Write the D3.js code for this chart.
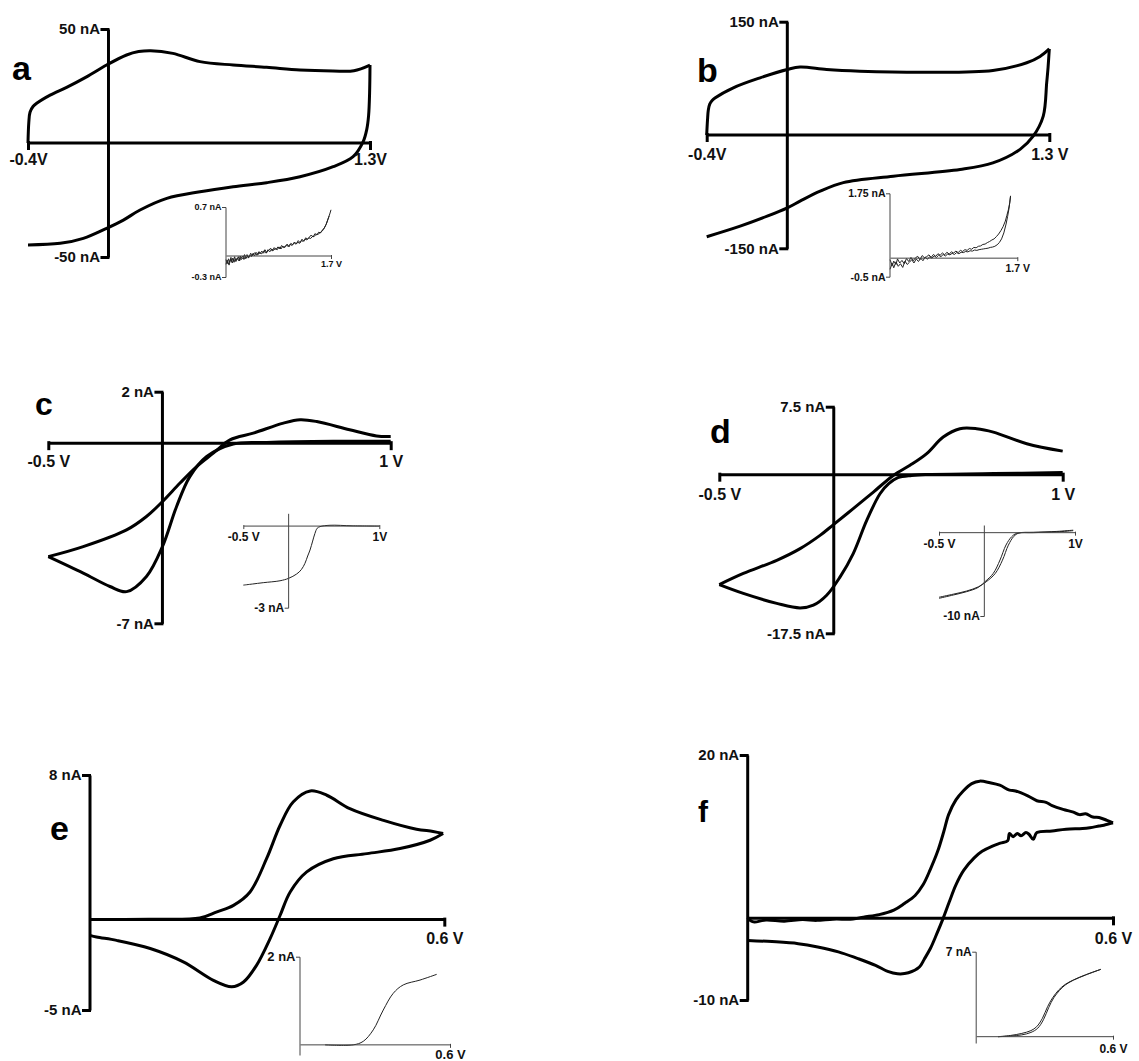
<!DOCTYPE html>
<html>
<head>
<meta charset="utf-8">
<script src="https://cdn.jsdelivr.net/npm/d3@7"></script>
<style>
  body { margin: 0; background: #fff; }
</style>
</head>
<body>
<div id="chart"></div>
<script>
/**
 * CONSTANTS AND GLOBALS
 * */
const width = 1139,
  height = 1061;
const FONT = "'Liberation Sans', Arial, Helvetica, sans-serif";

/**
 * DATA  ([potential V, current nA])
 * */
// panel a
const aXTicks = [-0.4, 1.3], aXLabels = ["-0.4V", "1.3V"];
const aYTicks = [50, -50], aYLabels = ["50 nA", "-50 nA"];
const aForward = [[-0.4, 0], [-0.396, 9], [-0.39, 13.5], [-0.375, 16], [-0.357, 17.4], [-0.29, 21], [-0.208, 24.4],
  [-0.109, 29], [-0.009, 34.2], [0.09, 38.6], [0.15, 40.1], [0.21, 40.5], [0.32, 39.3], [0.455, 35.7], [0.62, 34.2],
  [0.786, 33.2], [0.952, 32], [1.116, 31.6], [1.22, 31.7], [1.3, 34.2]];
const aReverse = [[1.3, 34.2], [1.298, 22], [1.293, 12], [1.284, 6], [1.266, 0.6], [1.216, -6], [1.117, -10.4],
  [0.952, -14.8], [0.786, -17.4], [0.62, -19.2], [0.455, -21.4], [0.29, -24.3], [0.157, -29.4], [0.074, -33.8],
  [-0.009, -37.4], [-0.125, -41.8], [-0.24, -44], [-0.4, -44.7]];
const aInsetXTicks = [1.7], aInsetXLabels = ["1.7 V"];
const aInsetYTicks = [0.7, -0.3], aInsetYLabels = ["0.7 nA", "-0.3 nA"];
const aInset1 = [[0.00, -0.05], [0.02, -0.11], [0.04, -0.04], [0.06, -0.09], [0.08, -0.02], [0.10, -0.10], [0.12, -0.06],
  [0.14, -0.01], [0.16, -0.08], [0.18, -0.03], [0.21, -0.07], [0.23, 0.00], [0.25, -0.05], [0.28, -0.02], [0.30, 0.02],
  [0.32, -0.04], [0.35, 0.01], [0.37, -0.02], [0.40, 0.04], [0.42, 0.00], [0.45, 0.03], [0.47, 0.05], [0.50, 0.01],
  [0.53, 0.06], [0.55, 0.03], [0.58, 0.07], [0.61, 0.04], [0.63, 0.09], [0.66, 0.05], [0.69, 0.08], [0.72, 0.11],
  [0.75, 0.07], [0.78, 0.12], [0.81, 0.09], [0.84, 0.13], [0.87, 0.10], [0.90, 0.15], [0.93, 0.12], [0.96, 0.14],
  [0.99, 0.17], [1.02, 0.13], [1.05, 0.18], [1.08, 0.16], [1.11, 0.20], [1.14, 0.17], [1.17, 0.22], [1.20, 0.19],
  [1.23, 0.24], [1.26, 0.21], [1.29, 0.26], [1.32, 0.24], [1.35, 0.27], [1.38, 0.30], [1.41, 0.27], [1.44, 0.32],
  [1.47, 0.30], [1.50, 0.34], [1.53, 0.33], [1.56, 0.37], [1.59, 0.40], [1.62, 0.45], [1.64, 0.50], [1.66, 0.55],
  [1.68, 0.60], [1.70, 0.66]];
const aInset2 = [[0.00, -0.12], [0.02, -0.06], [0.05, -0.13], [0.07, -0.05], [0.09, -0.08], [0.11, -0.03], [0.13, -0.09],
  [0.15, -0.04], [0.17, -0.06], [0.20, -0.01], [0.22, -0.07], [0.24, -0.03], [0.27, 0.00], [0.29, -0.05], [0.31, -0.01],
  [0.34, 0.02], [0.36, -0.03], [0.39, 0.01], [0.41, -0.01], [0.44, 0.04], [0.46, 0.00], [0.49, 0.05], [0.52, 0.02],
  [0.54, 0.06], [0.57, 0.03], [0.60, 0.05], [0.62, 0.08], [0.65, 0.04], [0.68, 0.09], [0.71, 0.06], [0.74, 0.10],
  [0.77, 0.08], [0.80, 0.11], [0.83, 0.09], [0.86, 0.13], [0.89, 0.10], [0.92, 0.14], [0.95, 0.12], [0.98, 0.15],
  [1.01, 0.14], [1.04, 0.17], [1.07, 0.15], [1.10, 0.19], [1.13, 0.17], [1.16, 0.20], [1.19, 0.18], [1.22, 0.22],
  [1.25, 0.21], [1.28, 0.24], [1.31, 0.23], [1.34, 0.26], [1.37, 0.25], [1.40, 0.28], [1.43, 0.28], [1.46, 0.31],
  [1.49, 0.31], [1.52, 0.33], [1.55, 0.35], [1.58, 0.38], [1.61, 0.43], [1.63, 0.47], [1.65, 0.52], [1.67, 0.57]];

// panel b
const bXTicks = [-0.4, 1.3], bXLabels = ["-0.4V", "1.3 V"];
const bYTicks = [150, -150], bYLabels = ["150 nA", "-150 nA"];
const bForward = [[-0.4, 0], [-0.396, 20], [-0.392, 33], [-0.385, 41], [-0.372, 46], [-0.359, 49], [-0.268, 62.5],
  [-0.135, 75.7], [0, 86.7], [0.063, 90], [0.195, 86.7], [0.36, 84.5], [0.69, 83], [1.02, 85.4], [1.188, 95.6],
  [1.254, 104], [1.3, 114]];
const bReverse = [[1.3, 114], [1.294, 90], [1.287, 69], [1.27, 25], [1.22, -1.6], [1.155, -19], [1.02, -37],
  [0.857, -45.7], [0.526, -54.5], [0.278, -63], [0.163, -74.4], [0.063, -87.6], [0, -96.4], [-0.1, -107.5],
  [-0.234, -120.7], [-0.4, -134.7]];
const bInsetXTicks = [1.7], bInsetXLabels = ["1.7 V"];
const bInsetYTicks = [1.75, -0.5], bInsetYLabels = ["1.75 nA", "-0.5 nA"];
const bInset1 = [[0.00, -0.04], [0.03, -0.20], [0.05, -0.08], [0.08, -0.17], [0.10, -0.02], [0.13, -0.13], [0.16, -0.06],
  [0.19, -0.15], [0.22, -0.01], [0.25, -0.09], [0.28, 0.02], [0.31, -0.07], [0.34, 0.01], [0.37, 0.05], [0.40, -0.04],
  [0.43, 0.07], [0.46, 0.01], [0.49, 0.04], [0.52, 0.09], [0.55, 0.02], [0.58, 0.10], [0.61, 0.05], [0.64, 0.12],
  [0.67, 0.08], [0.70, 0.14], [0.73, 0.09], [0.76, 0.16], [0.79, 0.11], [0.82, 0.17], [0.85, 0.14], [0.88, 0.19],
  [0.91, 0.15], [0.94, 0.21], [0.97, 0.18], [1.00, 0.23], [1.03, 0.21], [1.06, 0.26], [1.09, 0.24], [1.12, 0.29],
  [1.15, 0.28], [1.18, 0.32], [1.21, 0.33], [1.24, 0.37], [1.27, 0.38], [1.30, 0.42], [1.33, 0.45], [1.36, 0.49],
  [1.39, 0.52], [1.42, 0.58], [1.45, 0.65], [1.48, 0.74], [1.51, 0.85], [1.54, 1.0], [1.56, 1.15], [1.58, 1.30],
  [1.60, 1.50], [1.61, 1.68]];
const bInset2 = [[0.00, -0.30], [0.03, -0.14], [0.05, -0.26], [0.08, -0.10], [0.11, -0.22], [0.14, -0.15], [0.17, -0.25],
  [0.20, -0.08], [0.23, -0.17], [0.26, -0.11], [0.29, -0.04], [0.32, -0.13], [0.35, -0.02], [0.38, -0.09], [0.41, 0.00],
  [0.44, -0.07], [0.47, 0.03], [0.50, -0.03], [0.53, 0.04], [0.56, 0.00], [0.59, 0.06], [0.62, 0.02], [0.65, 0.08],
  [0.68, 0.04], [0.71, 0.10], [0.74, 0.06], [0.77, 0.11], [0.80, 0.09], [0.83, 0.13], [0.86, 0.10], [0.89, 0.15],
  [0.92, 0.12], [0.95, 0.16], [0.98, 0.15], [1.01, 0.18], [1.04, 0.17], [1.07, 0.20], [1.10, 0.19], [1.13, 0.22],
  [1.16, 0.21], [1.19, 0.23], [1.22, 0.24], [1.25, 0.25], [1.28, 0.26], [1.31, 0.27], [1.34, 0.29], [1.37, 0.30],
  [1.40, 0.32], [1.43, 0.36], [1.46, 0.42], [1.49, 0.52], [1.52, 0.68], [1.55, 0.92], [1.57, 1.12], [1.59, 1.35],
  [1.61, 1.68]];

// panel c
const cXTicks = [-0.5, 1], cXLabels = ["-0.5 V", "1 V"];
const cYTicks = [2, -7], cYLabels = ["2 nA", "-7 nA"];
const cForward = [[-0.5, -4.41], [-0.347, -4.02], [-0.157, -3.37], [-0.07, -2.85], [0, -2.27], [0.077, -1.55],
  [0.15, -0.91], [0.223, -0.39], [0.296, 0.13], [0.398, 0.39], [0.53, 0.78], [0.603, 0.91], [0.676, 0.84],
  [0.82, 0.52], [0.938, 0.28], [1.0, 0.26]];
const cReverse = [[1.0, 0.07], [0.749, 0.07], [0.457, 0.03], [0.31, -0.03], [0.194, -0.52], [0.12, -1.3],
  [0.062, -2.46], [0, -4.02], [-0.07, -5.18], [-0.157, -5.77], [-0.23, -5.57], [-0.347, -5.05], [-0.5, -4.41]];
const cInsetXTicks = [-0.5, 1], cInsetXLabels = ["-0.5 V", "1V"];
const cInsetYTicks = [-3], cInsetYLabels = ["-3 nA"];
const cInset1 = [[-0.5, -2.17], [-0.4, -2.13], [-0.28, -2.08], [-0.095, -2.01], [0, -1.92], [0.089, -1.76], [0.14, -1.6],
  [0.18, -1.37], [0.21, -1.1], [0.236, -0.88], [0.265, -0.55], [0.29, -0.27], [0.315, -0.08], [0.346, -0.02],
  [0.456, 0.03], [0.7, 0.01], [1.0, 0.0]];

// panel d
const dXTicks = [-0.5, 1], dXLabels = ["-0.5 V", "1 V"];
const dYTicks = [7.5, -17.5], dYLabels = ["7.5 nA", "-17.5 nA"];
const dForward = [[-0.5, -12.13], [-0.395, -10.9], [-0.249, -9.45], [-0.147, -8.16], [-0.06, -6.7], [0, -5.48],
  [0.085, -3.75], [0.173, -1.92], [0.26, -0.08], [0.333, 1.03], [0.406, 2.32], [0.478, 4.15], [0.551, 5.07],
  [0.624, 5.07], [0.697, 4.7], [0.843, 3.42], [1.0, 2.6]];
const dReverse = [[1.0, 0.25], [0.7, 0.12], [0.4, 0.02], [0.34, -0.08], [0.28, -0.33], [0.24, -1.0],
  [0.202, -2.1], [0.144, -5.04], [0.085, -8.7], [0.027, -11.3], [-0.031, -13.3], [-0.089, -14.4], [-0.147, -14.7],
  [-0.249, -14.2], [-0.395, -13.1], [-0.5, -12.13]];
const dInsetXTicks = [-0.5, 1], dInsetXLabels = ["-0.5 V", "1V"];
const dInsetYTicks = [-10], dInsetYLabels = ["-10 nA"];
const dInset1 = [[-0.5, -7.88], [-0.342, -7.48], [-0.195, -7.08], [-0.066, -6.56], [0.008, -5.88], [0.099, -4.88],
  [0.173, -3.28], [0.239, -1.48], [0.302, -0.48], [0.357, -0.08], [0.54, 0.0], [0.8, 0.1], [0.98, 0.24]];
const dInset2 = [[-0.5, -7.75], [-0.342, -7.38], [-0.195, -7.0], [-0.066, -6.5], [0.02, -5.9], [0.12, -4.9],
  [0.2, -3.3], [0.265, -1.5], [0.325, -0.45], [0.38, -0.05], [0.54, 0.05], [0.8, 0.15], [0.98, 0.3]];

// panel e
const eXTicks = [0.6], eXLabels = ["0.6 V"];
const eYTicks = [8, -5], eYLabels = ["8 nA", "-5 nA"];
const eForward = [[0, 0], [0.1, 0.02], [0.186, 0.09], [0.215, 0.43], [0.243, 0.79], [0.271, 1.53], [0.299, 3.37],
  [0.322, 5.22], [0.344, 6.51], [0.373, 7.12], [0.401, 6.88], [0.44, 6.14], [0.497, 5.49], [0.553, 5.0],
  [0.581, 4.88], [0.598, 4.76]];
const eReverse = [[0.598, 4.76], [0.576, 4.39], [0.525, 3.93], [0.469, 3.65], [0.412, 3.37], [0.367, 2.64],
  [0.339, 1.53], [0.322, 0.24], [0.305, -1.05], [0.282, -2.53], [0.26, -3.45], [0.24, -3.72], [0.209, -3.36],
  [0.158, -2.34], [0.102, -1.6], [0.045, -1.15], [0.011, -0.96], [0, -0.87]];
const eInsetXTicks = [0.6], eInsetXLabels = ["0.6 V"];
const eInsetYTicks = [2], eInsetYLabels = ["2 nA"];
const eInset1 = [[0.1, 0], [0.213, 0], [0.253, 0.08], [0.293, 0.34], [0.333, 0.79], [0.373, 1.17], [0.413, 1.36],
  [0.48, 1.47], [0.547, 1.6]];

// panel f
const fXTicks = [0.6], fXLabels = ["0.6 V"];
const fYTicks = [20, -10], fYLabels = ["20 nA", "-10 nA"];
const fForward = [[0, 0.1], [0.005, -0.3], [0.011, -0.45], [0.03, -0.2], [0.06, -0.35], [0.09, -0.15], [0.113, -0.25],
  [0.14, -0.1], [0.173, -0.08], [0.19, 0.15], [0.216, 0.45], [0.24, 1.0], [0.258, 1.85], [0.275, 2.8], [0.288, 4.1],
  [0.3, 6.0], [0.312, 8.2], [0.322, 10.6], [0.33, 12.7], [0.342, 14.5], [0.354, 15.6], [0.368, 16.5], [0.381, 16.8],
  [0.398, 16.6], [0.414, 16.3], [0.43, 15.7], [0.44, 15.6], [0.46, 15.0], [0.475, 14.4], [0.49, 14.2], [0.5, 13.8],
  [0.52, 13.3], [0.535, 13.0], [0.545, 12.7], [0.555, 12.8], [0.567, 12.4], [0.577, 12.35], [0.59, 12.0], [0.6, 11.7]];
const fReverse = [[0.6, 11.7], [0.585, 11.4], [0.577, 11.3], [0.562, 11.1], [0.55, 11.0], [0.523, 10.9], [0.5, 10.7],
  [0.475, 10.5], [0.469, 9.67], [0.462, 10.3], [0.457, 10.5], [0.449, 10.1], [0.443, 10.4], [0.436, 10.0],
  [0.43, 10.4], [0.427, 9.5], [0.415, 9.2], [0.402, 8.85], [0.385, 8.2], [0.372, 7.4], [0.355, 5.9], [0.342, 4.1],
  [0.331, 2.0], [0.321, 0], [0.31, -2.0], [0.3, -3.7], [0.29, -5.0], [0.282, -5.96], [0.264, -6.67], [0.246, -6.79],
  [0.23, -6.5], [0.21, -5.76], [0.18, -4.9], [0.149, -4.1], [0.115, -3.5], [0.083, -3.1], [0.04, -2.85], [0, -2.7]];
const fInsetXTicks = [0.6], fInsetXLabels = ["0.6 V"];
const fInsetYTicks = [7], fInsetYLabels = ["7 nA"];
const fInset1 = [[0.096, 0], [0.15, 0.1], [0.2, 0.27], [0.24, 0.5], [0.265, 0.82], [0.29, 1.5], [0.313, 2.47],
  [0.335, 3.2], [0.362, 3.85], [0.39, 4.3], [0.426, 4.67], [0.48, 5.1], [0.547, 5.55]];
const fInset2 = [[0.096, 0], [0.15, 0.05], [0.2, 0.15], [0.24, 0.35], [0.27, 0.7], [0.295, 1.4], [0.318, 2.4],
  [0.34, 3.2], [0.365, 3.8], [0.39, 4.25], [0.426, 4.65], [0.48, 5.08], [0.547, 5.55]];

const panelLetters = ["a", "b", "c", "d", "e", "f"];

/**
 * SVG
 * */
const svg = d3.select("#chart")
  .append("svg")
  .attr("width", width)
  .attr("height", height)
  .style("background", "#fff");

function drawPlot(p) {
  const x = d3.scaleLinear().domain(p.xDomain).range(p.xRange);
  const y = d3.scaleLinear().domain(p.yDomain).range(p.yRange);
  const sw = p.inset ? 1 : 3;
  const ink = p.inset ? "#444" : "#000";
  const g = svg.append("g");

  const line = d3.line()
    .x(d => x(d[0]))
    .y(d => y(d[1]))
    .curve(p.smooth ? d3.curveCatmullRom.alpha(0.5) : d3.curveLinear);

  p.traces.forEach(t => {
    g.append("path")
      .attr("d", line(t))
      .attr("fill", "none")
      .attr("stroke", p.inset ? "#222" : "#000")
      .attr("stroke-width", p.inset ? 1 : 3)
      .attr("stroke-linejoin", "round");
  });

  const xAxis = d3.axisBottom(x)
    .tickValues(p.xTicks)
    .tickFormat(d => p.xLabels[p.xTicks.indexOf(d)])
    .tickSize(p.tick).tickSizeOuter(0).tickPadding(p.xPad);
  const yAxis = d3.axisLeft(y)
    .tickValues(p.yTicks)
    .tickFormat(d => p.yLabels[p.yTicks.indexOf(d)])
    .tickSize(p.tick).tickSizeOuter(0).tickPadding(p.yPad);

  const gx = g.append("g").attr("transform", `translate(0,${y(0) - 0.5})`).call(xAxis);
  const gy = g.append("g").attr("transform", `translate(${x(0) - 0.5},0)`).call(yAxis);

  [[gx, p.xFont], [gy, p.yFont]].forEach(([a, fs]) => {
    a.attr("font-family", FONT).attr("font-size", fs).attr("font-weight", "bold");
    a.select(".domain").attr("stroke", ink).attr("stroke-width", sw);
    a.selectAll(".tick line").attr("stroke", ink).attr("stroke-width", sw).attr("stroke-linecap", "square");
    a.selectAll(".tick text").attr("fill", "#111");
  });
}

// main panels
drawPlot({ xDomain: [-0.4, 1.3], xRange: [28, 370], yDomain: [-50, 50], yRange: [257, 29],
  xTicks: aXTicks, xLabels: aXLabels, yTicks: aYTicks, yLabels: aYLabels,
  tick: 6, xPad: 5, yPad: 2, xFont: 16, yFont: 15, smooth: true, traces: [aForward, aReverse] });
drawPlot({ xDomain: [-0.4, 1.3], xRange: [706.7, 1049.3], yDomain: [-150, 150], yRange: [248.3, 21.7],
  xTicks: bXTicks, xLabels: bXLabels, yTicks: bYTicks, yLabels: bYLabels,
  tick: 6, xPad: 8, yPad: 2, xFont: 16, yFont: 15, smooth: true, traces: [bForward, bReverse] });
drawPlot({ xDomain: [-0.5, 1], xRange: [48.3, 390.7], yDomain: [-7, 2], yRange: [623.3, 391.7],
  xTicks: cXTicks, xLabels: cXLabels, yTicks: cYTicks, yLabels: cYLabels,
  tick: 6, xPad: 7, yPad: 2, xFont: 16, yFont: 15, smooth: true, traces: [cForward, cReverse] });
drawPlot({ xDomain: [-0.5, 1], xRange: [719.3, 1062.7], yDomain: [-17.5, 7.5], yRange: [633.3, 406.7],
  xTicks: dXTicks, xLabels: dXLabels, yTicks: dYTicks, yLabels: dYLabels,
  tick: 6, xPad: 8, yPad: 2, xFont: 16, yFont: 15, smooth: true, traces: [dForward, dReverse] });
drawPlot({ xDomain: [0, 0.6], xRange: [90, 444.3], yDomain: [-5, 8], yRange: [1010, 775],
  xTicks: eXTicks, xLabels: eXLabels, yTicks: eYTicks, yLabels: eYLabels,
  tick: 6, xPad: 8, yPad: 2, xFont: 16, yFont: 15, smooth: true, traces: [eForward, eReverse] });
drawPlot({ xDomain: [0, 0.6], xRange: [747.7, 1113], yDomain: [-10, 20], yRange: [1000, 755],
  xTicks: fXTicks, xLabels: fXLabels, yTicks: fYTicks, yLabels: fYLabels,
  tick: 6, xPad: 9, yPad: 2, xFont: 16, yFont: 15, smooth: true, traces: [fForward, fReverse] });

// insets
drawPlot({ inset: true, xDomain: [0, 1.7], xRange: [226, 331], yDomain: [-0.3, 0.7], yRange: [277, 207],
  xTicks: aInsetXTicks, xLabels: aInsetXLabels, yTicks: aInsetYTicks, yLabels: aInsetYLabels,
  tick: 3, xPad: 2, yPad: 1, xFont: 9, yFont: 9, traces: [aInset1, aInset2] });
drawPlot({ inset: true, xDomain: [0, 1.7], xRange: [890, 1017.3], yDomain: [-0.5, 1.75], yRange: [276.7, 193.3],
  xTicks: bInsetXTicks, xLabels: bInsetXLabels, yTicks: bInsetYTicks, yLabels: bInsetYLabels,
  tick: 3, xPad: 4, yPad: 1, xFont: 10.5, yFont: 10.5, traces: [bInset1, bInset2] });
drawPlot({ inset: true, xDomain: [-0.5, 1], xRange: [243.3, 379.3], yDomain: [-3, 0.47], yRange: [607.7, 513.3],
  xTicks: cInsetXTicks, xLabels: cInsetXLabels, yTicks: cInsetYTicks, yLabels: cInsetYLabels,
  tick: 3, xPad: 4, yPad: 1, xFont: 12, yFont: 12, smooth: true, traces: [cInset1] });
drawPlot({ inset: true, xDomain: [-0.5, 1], xRange: [939, 1075], yDomain: [-10, 0.92], yRange: [616, 525],
  xTicks: dInsetXTicks, xLabels: dInsetXLabels, yTicks: dInsetYTicks, yLabels: dInsetYLabels,
  tick: 3, xPad: 4, yPad: 1, xFont: 12, yFont: 12, smooth: true, traces: [dInset1, dInset2] });
drawPlot({ inset: true, xDomain: [0, 0.6], xRange: [300, 450], yDomain: [-0.23, 2], yRange: [1055, 956.7],
  xTicks: eInsetXTicks, xLabels: eInsetXLabels, yTicks: eInsetYTicks, yLabels: eInsetYLabels,
  tick: 3, xPad: 2, yPad: 1, xFont: 13, yFont: 13, smooth: true, traces: [eInset1] });
drawPlot({ inset: true, xDomain: [0, 0.6], xRange: [976.2, 1113], yDomain: [-0.52, 7], yRange: [1043, 951.7],
  xTicks: fInsetXTicks, xLabels: fInsetXLabels, yTicks: fInsetYTicks, yLabels: fInsetYLabels,
  tick: 3, xPad: 5, yPad: 1, xFont: 12, yFont: 12, smooth: true, traces: [fInset1, fInset2] });

// panel letters
const letterPos = [[12, 80, 34], [697, 82, 34], [35, 415, 32], [710, 443, 34], [50, 840, 34], [698, 822, 30]];
svg.append("g")
  .attr("font-family", FONT)
  .attr("font-weight", "bold")
  .selectAll("text")
  .data(panelLetters)
  .join("text")
  .attr("x", (d, i) => letterPos[i][0])
  .attr("y", (d, i) => letterPos[i][1])
  .attr("font-size", (d, i) => letterPos[i][2])
  .text(d => d);
</script>
</body>
</html>
